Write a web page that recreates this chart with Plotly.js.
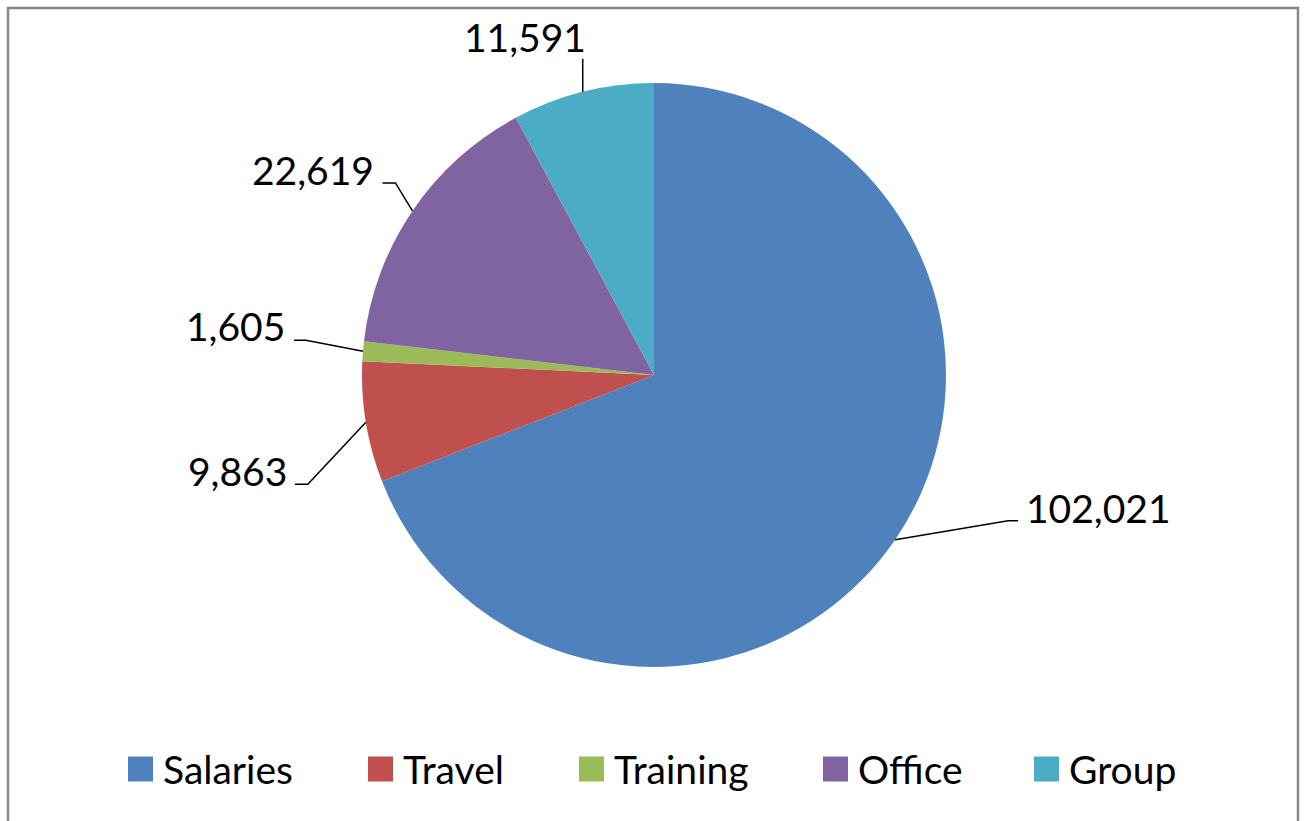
<!DOCTYPE html>
<html>
<head>
<meta charset="utf-8">
<script src="https://cdn.plot.ly/plotly-3.0.1.min.js"></script>
<style>html,body{margin:0;padding:0;background:#fff;}#chart{width:1306px;height:821px;}</style>
</head>
<body>
<div id="chart"></div>
<script>
// ---- data ----
const labels = ['Salaries', 'Travel', 'Training', 'Office', 'Group'];
const values = [102021, 9863, 1605, 22619, 11591];
const colors = ['#4F81BD', '#C0504D', '#9BBB59', '#8064A2', '#4BACC6'];

// ---- layout config (pixels) ----
const W = 1306, H = 821;
const cx = 654, cy = 375, R = 292;
const FONT = 'Lato, "Open Sans", sans-serif';
const FS = 39;
// leader line elbow offsets from slice edge midpoint, tick length, text placement
const leader = [
  {dx: 113, dy: -19, tick: 10, gap: 6, ty: -13},
  {dx: -58, dy: 62, tick: -13, gap: 6, ty: -13},
  {dx: -57, dy: -11, tick: -12, gap: 7, ty: -14},
  {dx: -17, dy: -28, tick: -13, gap: 6, ty: -13},
  {dx: 0, dy: -33, tick: 0, gap: -5, ty: -22, left: true}
];
const legendX = [128, 368, 579, 823, 1034];
const legendY = 769, sw = 25;

const px = x => x / W;
const py = y => 1 - y / H;

const total = values.reduce((a, b) => a + b, 0);
const shapes = [];
const annotations = [];
let cum = 0;
values.forEach((v, i) => {
  const mid = (cum + v / 2) / total * 2 * Math.PI; // clockwise from 12 o'clock
  cum += v;
  const ax = cx + R * Math.sin(mid);
  const ay = cy - R * Math.cos(mid);
  const L = leader[i];
  const ex = ax + L.dx, ey = ay + L.dy;
  const tx = ex + L.tick;
  shapes.push({
    type: 'path', xref: 'paper', yref: 'paper',
    path: `M${px(ax)},${py(ay)} L${px(ex)},${py(ey)} L${px(tx)},${py(ey)}`,
    line: {color: '#000', width: 1.5}
  });
  const right = L.tick > 0;
  annotations.push({
    xref: 'paper', yref: 'paper', showarrow: false,
    x: px(right ? tx + L.gap : tx - L.gap), y: py(ey + L.ty),
    xanchor: right ? 'left' : 'right', yanchor: 'middle',
    text: values[i].toLocaleString('en-US'),
    font: {family: FONT, size: FS, color: '#000'}
  });
});

// custom legend
labels.forEach((lab, i) => {
  shapes.push({
    type: 'rect', xref: 'paper', yref: 'paper',
    x0: px(legendX[i]), x1: px(legendX[i] + sw),
    y0: py(legendY - sw / 2), y1: py(legendY + sw / 2),
    fillcolor: colors[i], line: {width: 0}
  });
  annotations.push({
    xref: 'paper', yref: 'paper', showarrow: false,
    x: px(legendX[i] + sw + 8), y: py(legendY),
    xanchor: 'left', yanchor: 'middle',
    text: lab, font: {family: FONT, size: FS, color: '#000'}
  });
});

// chart-area border
shapes.push({
  type: 'rect', xref: 'paper', yref: 'paper',
  x0: px(8), x1: px(1298), y0: py(830), y1: py(8),
  line: {color: '#878787', width: 2.5}, fillcolor: 'rgba(0,0,0,0)'
});

const trace = {
  type: 'pie',
  labels: labels,
  values: values,
  sort: false,
  direction: 'clockwise',
  rotation: 0,
  textinfo: 'none',
  hoverinfo: 'label+value',
  marker: {colors: colors, line: {width: 0}},
  domain: {x: [px(cx - R), px(cx + R)], y: [py(cy + R), py(cy - R)]},
  showlegend: false
};

Plotly.newPlot('chart', [trace], {
  width: W, height: H,
  margin: {l: 0, r: 0, t: 0, b: 0},
  paper_bgcolor: '#fff',
  showlegend: false,
  shapes: shapes,
  annotations: annotations,
  font: {family: FONT}
}, {displayModeBar: false, staticPlot: false});
</script>
</body>
</html>
